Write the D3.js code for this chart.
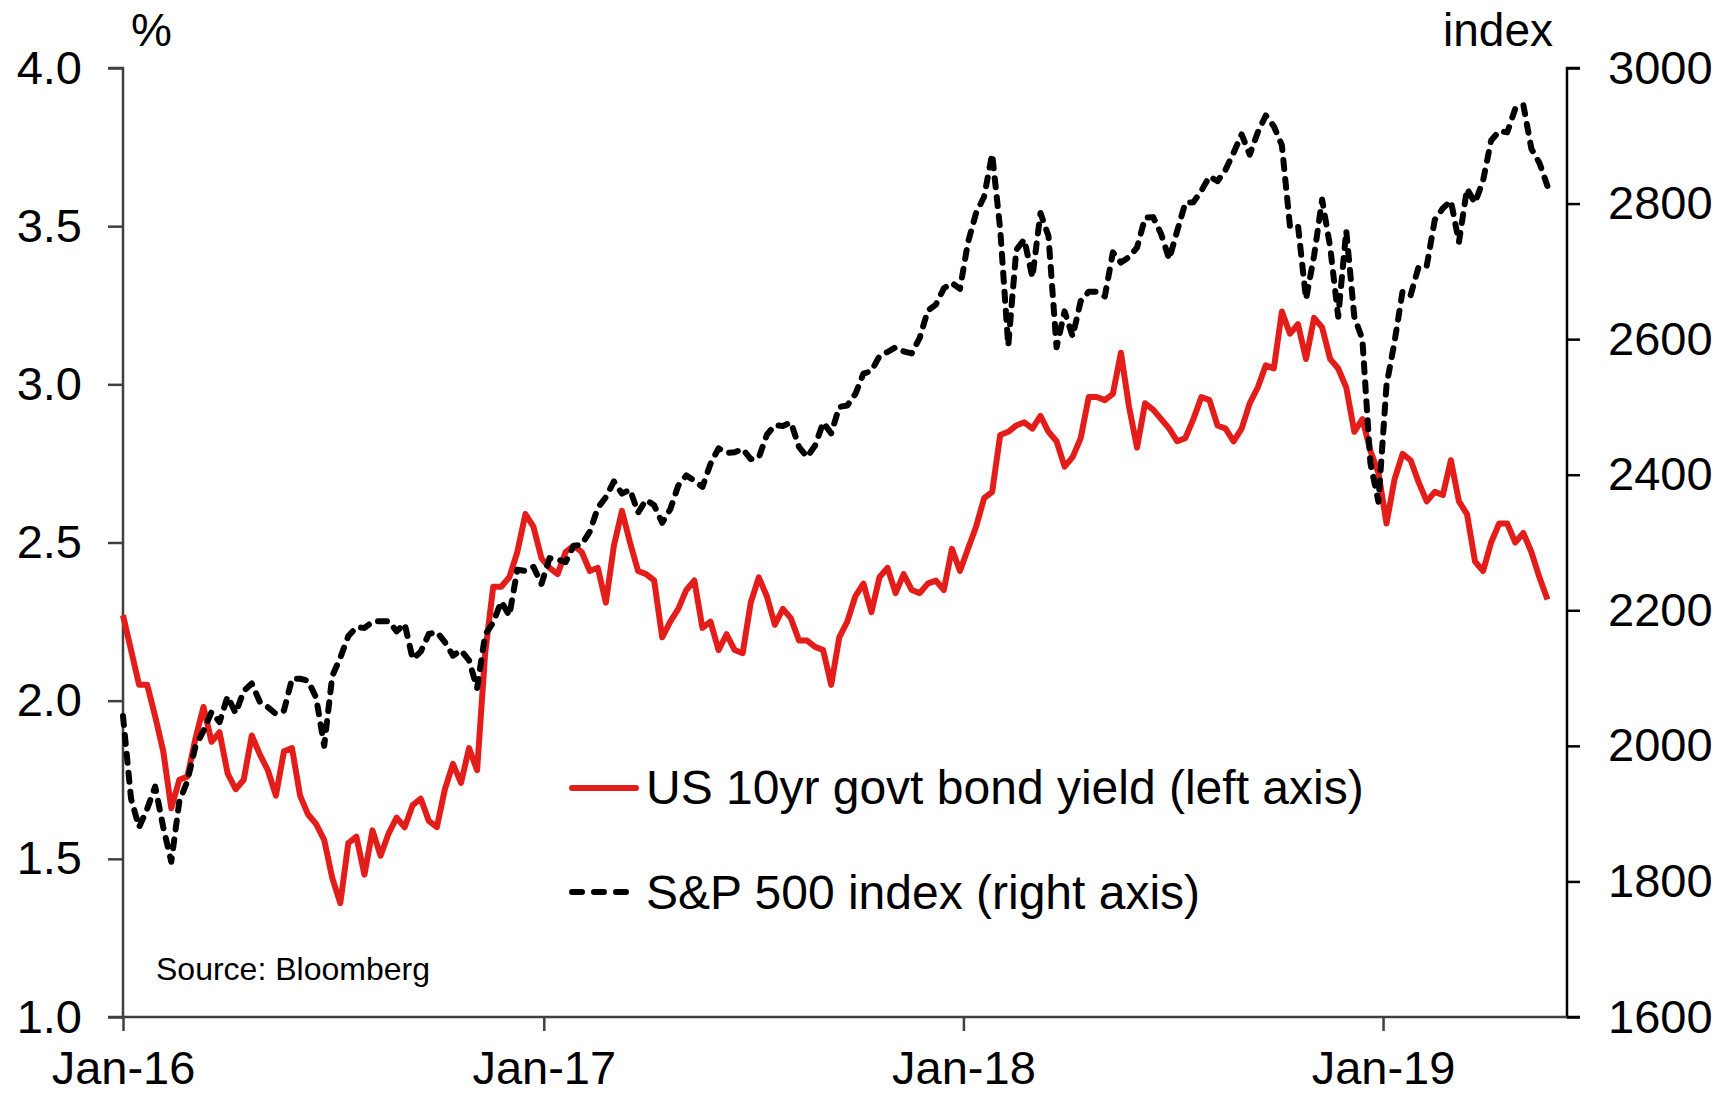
<!DOCTYPE html>
<html>
<head>
<meta charset="utf-8">
<script src="https://cdn.jsdelivr.net/npm/d3@7"></script>
<style>
  body { margin: 0; background: #fff; }
  text { font-family: "Liberation Sans", Arial, sans-serif; fill: #000; }
</style>
</head>
<body>
<div id="chart"></div>
<script>
// weekly (Friday) closes
var yield16 = [2.27, 2.16, 2.05, 2.05, 1.95, 1.84, 1.66, 1.75, 1.76, 1.88, 1.98, 1.87, 1.90,
    1.77, 1.72, 1.75, 1.89, 1.83, 1.78, 1.70, 1.84, 1.85, 1.70, 1.64, 1.61, 1.56,
    1.44, 1.36, 1.55, 1.57, 1.45, 1.59, 1.51, 1.58, 1.63, 1.60, 1.67, 1.69, 1.62, 1.60,
    1.72, 1.80, 1.74, 1.85, 1.78, 2.15, 2.36, 2.36, 2.39, 2.47, 2.59, 2.55, 2.45];
var yield17 = [2.42, 2.40, 2.47, 2.49, 2.47, 2.41, 2.42, 2.31, 2.49, 2.60, 2.50, 2.41, 2.40,
    2.38, 2.20, 2.25, 2.29, 2.35, 2.38, 2.23, 2.25, 2.16, 2.21, 2.16, 2.15, 2.31,
    2.39, 2.33, 2.24, 2.29, 2.26, 2.19, 2.19, 2.17, 2.16, 2.05, 2.20, 2.25, 2.33,
    2.37, 2.28, 2.39, 2.42, 2.34, 2.40, 2.35, 2.34, 2.37, 2.38, 2.35, 2.48, 2.41];
var yield18 = [2.48, 2.55, 2.64, 2.66, 2.84, 2.85, 2.87, 2.88, 2.86, 2.90, 2.85, 2.82, 2.74,
    2.77, 2.83, 2.96, 2.96, 2.95, 2.97, 3.10, 2.93, 2.80, 2.94, 2.92, 2.89, 2.86,
    2.82, 2.83, 2.89, 2.96, 2.95, 2.87, 2.86, 2.82, 2.86, 2.94, 2.99, 3.06, 3.05,
    3.23, 3.16, 3.19, 3.08, 3.21, 3.18, 3.08, 3.05, 2.99, 2.85, 2.89, 2.79, 2.72];
var yield19 = [2.56, 2.70, 2.78, 2.76, 2.69, 2.63, 2.66, 2.65, 2.76, 2.63, 2.59, 2.44, 2.41,
    2.50, 2.56, 2.56, 2.50, 2.53, 2.47, 2.39, 2.32];

var spx16 = [2044, 1922, 1880, 1907, 1940, 1880, 1829, 1918, 1948, 1999, 2022, 2050, 2035,
    2073, 2048, 2081, 2092, 2065, 2057, 2047, 2052, 2099, 2099, 2096, 2071, 2000,
    2103, 2130, 2162, 2175, 2174, 2183, 2184, 2184, 2169, 2180, 2128, 2139, 2165, 2168,
    2153, 2133, 2141, 2126, 2085, 2164, 2182, 2213, 2192, 2260, 2258, 2264, 2239];
var spx17 = [2277, 2275, 2271, 2295, 2297, 2316, 2351, 2367, 2390, 2372, 2378, 2344, 2363,
    2355, 2329, 2349, 2384, 2399, 2391, 2382, 2416, 2439, 2432, 2433, 2438, 2423,
    2425, 2459, 2473, 2472, 2477, 2441, 2426, 2443, 2477, 2461, 2500, 2502, 2519,
    2549, 2553, 2575, 2581, 2588, 2582, 2579, 2602, 2642, 2651, 2675, 2683, 2674];
var spx18 = [2743, 2786, 2810, 2873, 2762, 2590, 2732, 2747, 2691, 2786, 2752, 2588, 2641,
    2604, 2656, 2670, 2670, 2663, 2728, 2713, 2721, 2735, 2779, 2780, 2755, 2718,
    2760, 2801, 2802, 2819, 2840, 2833, 2850, 2875, 2902, 2872, 2905, 2930, 2914,
    2886, 2767, 2768, 2659, 2723, 2806, 2736, 2633, 2760, 2633, 2600, 2417, 2360];
var spx19 = [2532, 2596, 2671, 2665, 2707, 2708, 2776, 2793, 2804, 2743, 2822, 2801, 2834,
    2893, 2907, 2905, 2940, 2946, 2881, 2860, 2826];

var yieldValues = yield16.concat(yield17, yield18, yield19);
var spxValues = spx16.concat(spx17, spx18, spx19);

var leftTicks = [1.0, 1.5, 2.0, 2.5, 3.0, 3.5, 4.0];
var rightTicks = [1600, 1800, 2000, 2200, 2400, 2600, 2800, 3000];
var dateTicks = ["2016-01-01", "2017-01-01", "2018-01-01", "2019-01-01"];

var legendLabels = ["US 10yr govt bond yield (left axis)", "S&P 500 index (right axis)"];

var parse = d3.timeParse("%Y-%m-%d");
var dates = d3.timeFriday.range(parse("2016-01-01"), parse("2019-05-25"));

var width = 1725, height = 1094;
var plot = { left: 123, right: 1567, top: 68, bottom: 1017 };

var svg = d3.select("#chart")
    .append("svg")
    .attr("width", width)
    .attr("height", height);

var x = d3.scaleTime()
    .domain([parse("2016-01-01"), parse("2019-06-10")])
    .range([plot.left, plot.right]);

var yLeft = d3.scaleLinear()
    .domain([1, 4])
    .range([plot.bottom, plot.top]);

var yRight = d3.scaleLinear()
    .domain([1600, 3000])
    .range([plot.bottom, plot.top]);

// axes
var gLeft = svg.append("g")
    .attr("transform", "translate(" + plot.left + ",0)")
    .call(d3.axisLeft(yLeft)
        .tickValues(leftTicks)
        .tickSize(15)
        .tickPadding(26)
        .tickFormat(d3.format(".1f")));

var gRight = svg.append("g")
    .attr("transform", "translate(" + plot.right + ",0)")
    .call(d3.axisRight(yRight)
        .tickValues(rightTicks)
        .tickSize(13)
        .tickPadding(28)
        .tickFormat(d3.format("d")));

var gBottom = svg.append("g")
    .attr("transform", "translate(0," + plot.bottom + ")")
    .call(d3.axisBottom(x)
        .tickValues(dateTicks.map(parse))
        .tickSize(14)
        .tickPadding(20)
        .tickFormat(d3.timeFormat("%b-%y")));

[gLeft, gBottom].forEach(function (g) {
    g.selectAll("path, line").attr("stroke", "#404040").attr("stroke-width", 2.5);
});
gRight.selectAll("path, line").attr("stroke", "#000").attr("stroke-width", 2.5);
gLeft.selectAll(".domain").attr("d", "M-15," + plot.top + "H0V" + plot.bottom + "H-15");
gRight.selectAll(".domain").attr("d", "M13," + plot.top + "H0V" + plot.bottom + "H13");
gBottom.selectAll(".domain").attr("d", "M" + plot.left + ",0H" + plot.right);

svg.selectAll(".tick text")
    .attr("font-size", 47)
    .attr("font-family", "Liberation Sans, Arial, sans-serif")
    .attr("fill", "#000");

// unit labels
svg.append("text")
    .attr("x", 131)
    .attr("y", 46)
    .attr("font-size", 46)
    .text("%");

svg.append("text")
    .attr("x", 1553)
    .attr("y", 46)
    .attr("font-size", 46)
    .attr("text-anchor", "end")
    .text("index");

// series
var yieldLine = d3.line()
    .x(function (d, i) { return x(dates[i]); })
    .y(function (d) { return yLeft(d); });

var spxLine = d3.line()
    .x(function (d, i) { return x(dates[i]); })
    .y(function (d) { return yRight(d); });

svg.append("path")
    .datum(yieldValues)
    .attr("d", yieldLine)
    .attr("fill", "none")
    .attr("stroke", "#e31e1a")
    .attr("stroke-width", 6)
    .attr("stroke-linejoin", "round");

svg.append("path")
    .datum(spxValues)
    .attr("d", spxLine)
    .attr("fill", "none")
    .attr("stroke", "#000")
    .attr("stroke-width", 6)
    .attr("stroke-linecap", "round")
    .attr("stroke-linejoin", "round")
    .attr("stroke-dasharray", "9,10");

// legend
var legend = svg.append("g");

legend.append("line")
    .attr("x1", 572).attr("x2", 636)
    .attr("y1", 788).attr("y2", 788)
    .attr("stroke", "#e31e1a")
    .attr("stroke-width", 6)
    .attr("stroke-linecap", "round");

legend.append("line")
    .attr("x1", 572).attr("x2", 636)
    .attr("y1", 892).attr("y2", 892)
    .attr("stroke", "#000")
    .attr("stroke-width", 6)
    .attr("stroke-linecap", "round")
    .attr("stroke-dasharray", "10,12");

legend.selectAll("text.lbl")
    .data(legendLabels)
    .enter()
    .append("text")
    .attr("class", "lbl")
    .attr("x", 646)
    .attr("y", function (d, i) { return 804 + i * 105; })
    .attr("font-size", 48)
    .text(function (d) { return d; });

svg.append("text")
    .attr("x", 156)
    .attr("y", 980)
    .attr("font-size", 32)
    .text("Source: Bloomberg");
</script>
</body>
</html>
